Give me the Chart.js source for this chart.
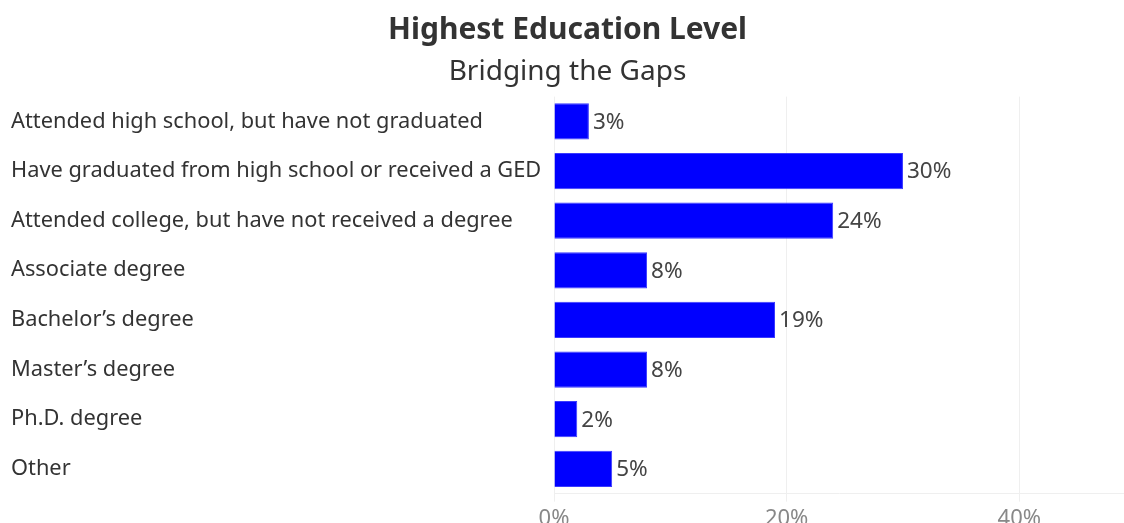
<!DOCTYPE html>
<html>
<head>
<meta charset="utf-8">
<script src="https://cdn.jsdelivr.net/npm/chart.js@4/dist/chart.umd.min.js"></script>
<style>
  html, body { margin: 0; padding: 0; background: #fff; overflow: hidden; }
  #wrap { width: 1124px; height: 523px; overflow: hidden; position: relative; }
  #box { width: 1124px; height: 536px; position: absolute; left: 0; top: 0; }
</style>
</head>
<body>
<div id="wrap"><div id="box"><canvas id="chart"></canvas></div></div>
<script>
const categories = [
  "Attended high school, but have not graduated",
  "Have graduated from high school or received a GED",
  "Attended college, but have not received a degree",
  "Associate degree",
  "Bachelor\u2019s degree",
  "Master\u2019s degree",
  "Ph.D. degree",
  "Other"
];
const shares = [3, 30, 24, 8, 19, 8, 2, 5];
const xTicks = [0, 20, 40];

const FONT = "'Noto Sans', 'Open Sans', sans-serif";

// Writes each bar's percentage just past its end
const valueLabels = {
  id: 'valueLabels',
  afterDatasetsDraw(chart) {
    const ctx = chart.ctx;
    const meta = chart.getDatasetMeta(0);
    ctx.save();
    ctx.font = "22.5px " + FONT;
    ctx.fillStyle = '#444';
    ctx.textAlign = 'left';
    ctx.textBaseline = 'middle';
    meta.data.forEach((bar, i) => {
      ctx.fillText(shares[i] + '%', bar.x + 4, bar.y + 1);
    });
    ctx.restore();
  }
};

new Chart(document.getElementById('chart'), {
  type: 'bar',
  data: {
    labels: categories,
    datasets: [{
      data: shares,
      backgroundColor: '#0000ff',
      borderColor: '#3a3aff',
      borderWidth: 1,
      categoryPercentage: 0.73,
      barPercentage: 1
    }]
  },
  options: {
    indexAxis: 'y',
    responsive: true,
    maintainAspectRatio: false,
    animation: false,
    layout: { padding: { left: 11, right: 0, top: 4, bottom: 0 } },
    plugins: {
      legend: { display: false },
      tooltip: { enabled: false },
      title: {
        display: true,
        text: 'Highest Education Level',
        color: '#333',
        font: { family: FONT, size: 30, weight: 'bold' },
        padding: { top: 8, bottom: 7 }
      },
      subtitle: {
        display: true,
        text: 'Bridging the Gaps',
        color: '#333',
        font: { family: FONT, size: 28 },
        padding: { top: 0, bottom: 8 }
      }
    },
    scales: {
      x: {
        min: 0,
        max: 49,
        afterBuildTicks(scale) {
          scale.ticks = xTicks.map(v => ({ value: v }));
        },
        ticks: {
          color: '#888',
          font: { family: FONT, size: 22 },
          padding: 4,
          callback: v => v + '%'
        },
        grid: {
          color: '#efefef',
          tickLength: 8,
          drawTicks: true
        },
        border: { color: '#efefef' }
      },
      y: {
        afterFit(scale) { scale.width = 543; },
        ticks: {
          crossAlign: 'far',
          color: '#333',
          font: { family: FONT, size: 21.8 },
          padding: 10
        },
        grid: { display: false },
        border: { display: false }
      }
    }
  },
  plugins: [valueLabels]
});
</script>
</body>
</html>
